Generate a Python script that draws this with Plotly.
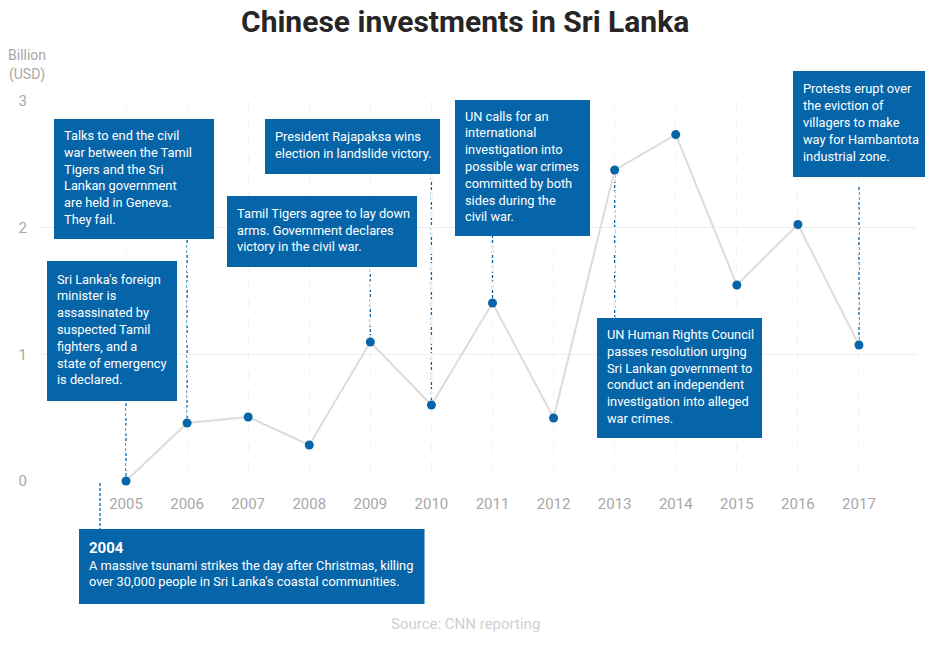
import plotly.graph_objects as go

WIDTH, HEIGHT = 930, 650
M_LEFT, M_RIGHT, M_TOP, M_BOTTOM = 41, 13, 101, 169

BLUE = "#0665a9"
FONT = "Roboto, sans-serif"

years = [2005, 2006, 2007, 2008, 2009, 2010, 2011, 2012, 2013, 2014, 2015, 2016, 2017]
invest = [0, 0.458, 0.505, 0.284, 1.097, 0.60, 1.405, 0.497, 2.455, 2.735, 1.547, 2.025, 1.074]

y_ticks = [0, 1, 2, 3]

# text of each callout
talks_lines = ["Talks to end the civil", "war between the Tamil", "Tigers and the Sri", "Lankan government", "are held in Geneva.", "They fail."]
minister_lines = ["Sri Lanka's foreign", "minister is", "assassinated by", "suspected Tamil", "fighters, and a", "state of emergency", "is declared."]
president_lines = ["President Rajapaksa wins", "election in landslide victory."]
tigers_lines = ["Tamil Tigers agree to lay down", "arms. Government declares", "victory in the civil war."]
un_calls_lines = ["UN calls for an", "international", "investigation into", "possible war crimes", "committed by both", "sides during the", "civil war."]
unhrc_lines = ["UN Human Rights Council", "passes resolution urging", "Sri Lankan government to", "conduct an independent", "investigation into alleged", "war crimes."]
protest_lines = ["Protests erupt over", "the eviction of", "villagers to make", "way for Hambantota", "industrial zone."]
tsunami_lines = ['<span style="font-size:15px"><b>2004</b></span>', "A massive tsunami strikes the day after Christmas, killing", "over 30,000 people in Sri Lanka's coastal communities."]


def px_x(p):
    return (p - M_LEFT) / (WIDTH - M_LEFT - M_RIGHT)


def px_y(p):
    return 1 - (p - M_TOP) / (HEIGHT - M_TOP - M_BOTTOM)


fig = go.Figure()

fig.add_trace(go.Scatter(
    x=years, y=invest, mode="lines+markers",
    line=dict(color="#dcdcdc", width=2),
    marker=dict(color=BLUE, size=9),
    hoverinfo="x+y", showlegend=False, cliponaxis=False,
))

# --- callouts: x0, y0, x1, y1 in page pixels, then the text lines ---
callouts = [
    (54, 119, 214, 239, talks_lines),
    (47, 261, 177, 401, minister_lines),
    (265, 119, 440, 174, president_lines),
    (227, 196, 417, 267, tigers_lines),
    (455, 100, 590, 236, un_calls_lines),
    (597, 318, 762, 438, unhrc_lines),
    (793, 71, 925, 177, protest_lines),
    (79, 529, 424.5, 604, tsunami_lines),
]

shapes = []
annotations = []
LINE_H = 16.8

for x0, y0, x1, y1, lines in callouts:
    shapes.append(dict(type="rect", xref="paper", yref="paper", layer="above",
                       x0=px_x(x0), x1=px_x(x1), y0=px_y(y1), y1=px_y(y0),
                       fillcolor=BLUE, line=dict(width=0)))
    top = (y0 + y1) / 2 - LINE_H * len(lines) / 2 - 1.5
    for i, line in enumerate(lines):
        annotations.append(dict(
            xref="paper", yref="paper", x=px_x(x0 + 8), y=px_y(top + LINE_H * (i + 0.5)),
            xanchor="left", yanchor="middle", showarrow=False, text=line,
            font=dict(family=FONT, size=12.8, color="white"),
        ))

# --- dashed connectors from point to callout: year index, top pixel ---
connectors = [(0, 401), (1, 239), (4, 267), (5, 174), (6, 236), (8, 318), (12, 186)]
for idx, top_px in connectors:
    shapes.append(dict(type="line", xref="x", yref="y", layer="below",
                       x0=years[idx], x1=years[idx], y0=invest[idx],
                       y1=(481 - top_px) / (481 - 101) * 3,
                       line=dict(color=BLUE, width=1.3, dash="3px,2px")))
# the 2004 one sits under the axis
shapes.append(dict(type="line", xref="paper", yref="paper", layer="below",
                   x0=px_x(100), x1=px_x(100), y0=px_y(483), y1=px_y(529),
                   line=dict(color=BLUE, width=1.3, dash="3px,2px")))

annotations += [
    dict(xref="paper", yref="paper", x=px_x(465), y=px_y(22), text="<b>Chinese investments in Sri Lanka</b>",
         showarrow=False, xanchor="center", yanchor="middle",
         font=dict(family=FONT, size=30, color="#262626")),
    dict(xref="paper", yref="paper", x=px_x(27), y=px_y(55), text="Billion",
         showarrow=False, xanchor="center", yanchor="middle",
         font=dict(family=FONT, size=14, color="#a8a8a8")),
    dict(xref="paper", yref="paper", x=px_x(27), y=px_y(74), text="(USD)",
         showarrow=False, xanchor="center", yanchor="middle",
         font=dict(family=FONT, size=14, color="#a8a8a8")),
    dict(xref="paper", yref="paper", x=px_x(465), y=px_y(624), text="Source: CNN reporting",
         showarrow=False, xanchor="center", yanchor="middle",
         font=dict(family=FONT, size=15, color="#d0d0d0")),
]

fig.update_layout(
    width=WIDTH, height=HEIGHT, autosize=False,
    margin=dict(l=M_LEFT, r=M_RIGHT, t=M_TOP, b=M_BOTTOM),
    paper_bgcolor="white", plot_bgcolor="white",
    shapes=shapes, annotations=annotations,
    xaxis=dict(range=[2003.608, 2017.95], tickvals=years, showline=False, zeroline=False,
               showgrid=True, gridcolor="#f2f2f2", griddash="dash", gridwidth=1,
               ticks="outside", ticklen=9, tickcolor="rgba(0,0,0,0)",
               tickfont=dict(family=FONT, size=15, color="#a8a8a8")),
    yaxis=dict(range=[0, 3], tickvals=y_ticks, showline=False, zeroline=False,
               showgrid=True, gridcolor="#eeeeee", gridwidth=1,
               ticks="outside", ticklen=10, tickcolor="rgba(0,0,0,0)",
               tickfont=dict(family=FONT, size=15, color="#a8a8a8")),
)

fig.write_html("out.html", config=dict(displayModeBar=False),
               post_script="document.body.style.margin='0';")
